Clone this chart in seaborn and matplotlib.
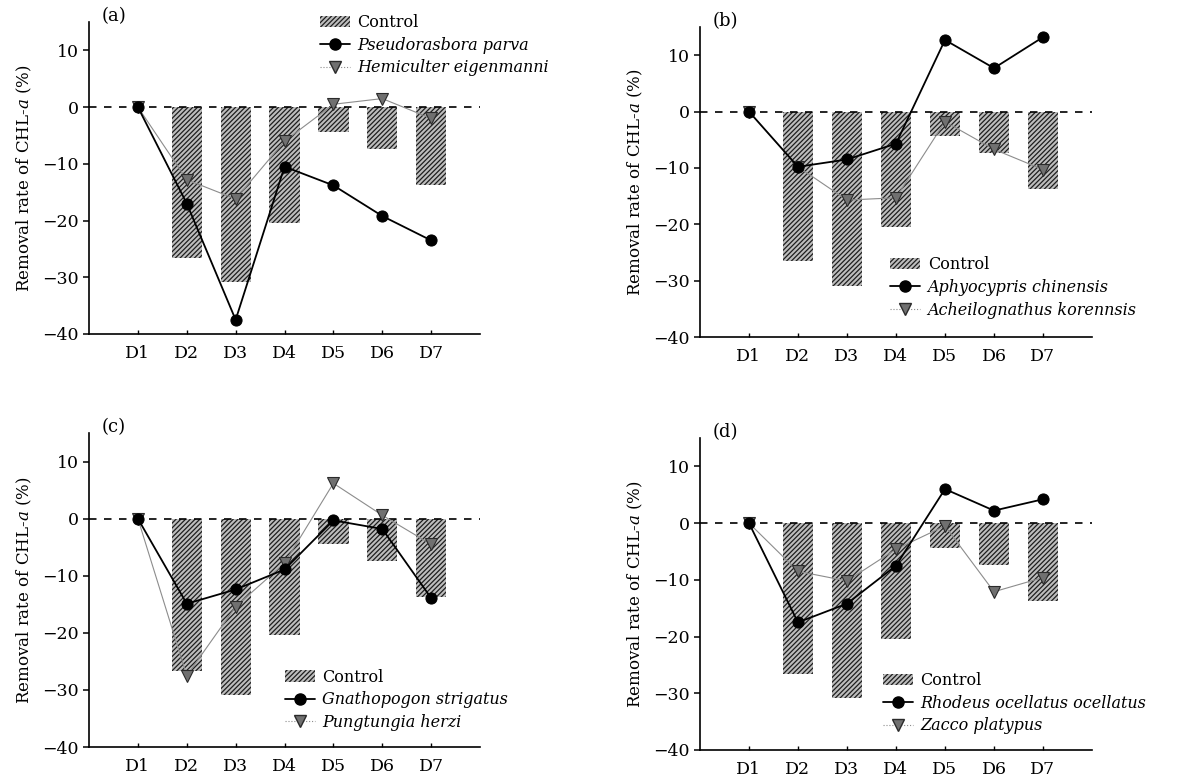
import matplotlib
matplotlib.use("Agg")
import matplotlib.pyplot as plt
import numpy as np
import seaborn as sns
from matplotlib.lines import Line2D
from matplotlib.patches import Patch

days = ["D1", "D2", "D3", "D4", "D5", "D6", "D7"]
control = [0, -26.6, -30.9, -20.4, -4.4, -7.4, -13.8]

panel_labels = ["(a)", "(b)", "(c)", "(d)"]
species_a = ["Pseudorasbora parva", "Hemiculter eigenmanni"]
species_b = ["Aphyocypris chinensis", "Acheilognathus korennsis"]
species_c = ["Gnathopogon strigatus", "Pungtungia herzi"]
species_d = ["Rhodeus ocellatus ocellatus", "Zacco platypus"]

circle_a = [0, -17.0, -37.5, -10.5, -13.8, -19.2, -23.5]
triangle_a = [0, -12.8, -16.2, -6.0, 0.5, 1.5, -2.0]
circle_b = [0, -9.8, -8.5, -5.7, 12.7, 7.7, 13.2]
triangle_b = [0, -9.8, -15.7, -15.3, -1.8, -6.7, -10.3]
circle_c = [0, -14.9, -12.4, -8.9, -0.3, -1.8, -13.9]
triangle_c = [0, -27.5, -15.4, -7.8, 6.2, 0.6, -4.5]
circle_d = [0, -17.5, -14.2, -7.5, 6.0, 2.2, 4.2]
triangle_d = [0, -8.5, -10.2, -4.6, -0.5, -12.1, -9.6]

BAR_FACE = "#bdbdbd"
HATCH_COL = "#1e1e1e"
HATCH = "///////"


def draw_panel(ax, label, names, circ, tri, legend_anchor):
    pos = np.arange(len(days))
    sns.barplot(x=days, y=control, ax=ax, color=BAR_FACE, saturation=1,
                width=0.62, edgecolor=HATCH_COL, linewidth=0, hatch=HATCH,
                zorder=1)
    ax.axhline(0, color="black", lw=1.2, ls=(0, (4.5, 4.5)), zorder=2)
    sns.lineplot(x=pos, y=tri, ax=ax, color="#8c8c8c", lw=0.8,
                 marker="v", markersize=9, markerfacecolor="#707070",
                 markeredgecolor="#2a2a2a", markeredgewidth=0.8, zorder=3)
    sns.lineplot(x=pos, y=circ, ax=ax, color="black", lw=1.3,
                 marker="o", markersize=8, markerfacecolor="black",
                 markeredgecolor="black", zorder=4)

    ax.set_xlim(-1, 7)
    ax.set_ylim(-40, 15)
    ax.set_xticks(pos)
    ax.set_xticklabels(days)
    ax.set_yticks([-40, -30, -20, -10, 0, 10])
    ax.set_xlabel("")
    ax.set_ylabel("Removal rate of CHL-$a$ (%)", fontsize=12, labelpad=6)
    ax.tick_params(axis="y", direction="out", length=4, width=1.1, labelsize=12.5)
    ax.tick_params(axis="x", direction="in", length=3, width=1.0, labelsize=12.5,
                   pad=8)
    for side in ["top", "right"]:
        ax.spines[side].set_visible(False)
    for side in ["left", "bottom"]:
        ax.spines[side].set_linewidth(1.2)
        ax.spines[side].set_color("black")

    ax.text(0.033, 1.018, label, transform=ax.transAxes, fontsize=13,
            ha="left", va="center")

    handles = [
        Patch(facecolor=BAR_FACE, edgecolor=HATCH_COL, hatch=HATCH, lw=0),
        Line2D([], [], color="black", lw=1.3, marker="o", markersize=8),
        Line2D([], [], color="#8c8c8c", lw=0.8, ls=":", marker="v", markersize=9,
               markerfacecolor="#707070", markeredgecolor="#2a2a2a"),
    ]
    leg = ax.legend(handles, ["Control"] + names, loc="upper left",
                    bbox_to_anchor=legend_anchor, frameon=False, fontsize=11.5,
                    borderpad=0, borderaxespad=0, handlelength=1.9,
                    handletextpad=0.45, labelspacing=0.35)
    for t in leg.get_texts()[1:]:
        t.set_fontstyle("italic")


def main() -> None:
    sns.set_theme(style="ticks")
    plt.rcParams["font.family"] = ["DejaVu Serif"]
    plt.rcParams["mathtext.fontset"] = "dejavuserif"
    plt.rcParams["hatch.linewidth"] = 0.9
    for key in ["text.color", "axes.labelcolor", "xtick.color", "ytick.color"]:
        plt.rcParams[key] = "black"

    fig = plt.figure(figsize=(12, 7.78), dpi=100)
    ax_a = fig.add_axes([0.0742, 0.5707, 0.3258, 0.401])
    ax_b = fig.add_axes([0.5833, 0.5668, 0.3267, 0.3985])
    ax_c = fig.add_axes([0.0742, 0.0398, 0.3258, 0.4036])
    ax_d = fig.add_axes([0.5833, 0.0360, 0.3267, 0.401])

    draw_panel(ax_a, panel_labels[0], species_a, circle_a, triangle_a, (0.59, 1.025))
    draw_panel(ax_b, panel_labels[1], species_b, circle_b, triangle_b, (0.485, 0.26))
    draw_panel(ax_c, panel_labels[2], species_c, circle_c, triangle_c, (0.50, 0.25))
    draw_panel(ax_d, panel_labels[3], species_d, circle_d, triangle_d, (0.467, 0.25))

    fig.savefig("out.png", dpi=100, facecolor="white")


if __name__ == "__main__":
    main()
